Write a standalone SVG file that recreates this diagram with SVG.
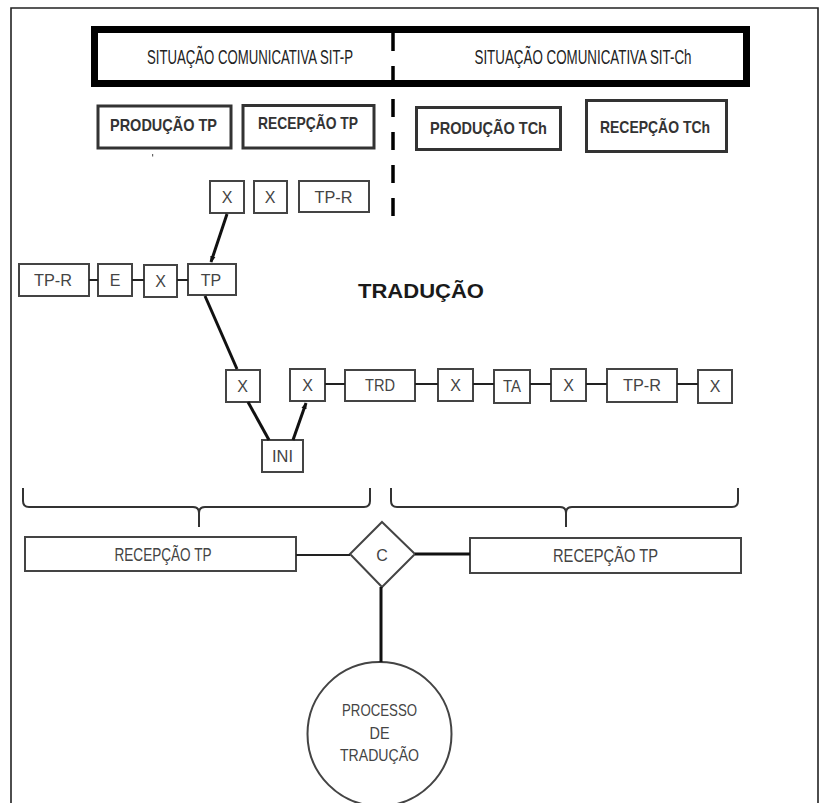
<svg xmlns="http://www.w3.org/2000/svg" width="819" height="803" viewBox="0 0 819 803">
<style>
.frame{fill:none;stroke:#222;stroke-width:1.6}
.hdr{fill:#fff;stroke:#000;stroke-width:7}
.big{fill:#fff;stroke:#333;stroke-width:3}
.sm{fill:#fff;stroke:#444;stroke-width:2}
.ln{fill:none;stroke:#111;stroke-width:3}
.thin{fill:none;stroke:#222;stroke-width:2}
.brace{fill:none;stroke:#333;stroke-width:2}
text{font-family:"Liberation Sans",Arial,sans-serif;dominant-baseline:central;text-anchor:middle}
.th{font-size:20px;fill:#222}
.tb{font-size:17px;font-weight:bold;fill:#333}
.ts{font-size:16px;fill:#444}
.tm{font-size:18px;fill:#444}
.tc{font-size:17px;fill:#444}
.title{font-size:21px;font-weight:bold;fill:#1a1a1a}
</style>
<defs>
<marker id="tip" viewBox="0 0 10 10" refX="9" refY="5" markerWidth="2.2" markerHeight="2.2" orient="auto" markerUnits="strokeWidth">
<path d="M0,1 L10,5 L0,9 z" fill="#111"/>
</marker>
</defs>
<rect x="0" y="0" width="819" height="803" fill="#fff"/>
<path class="frame" d="M11,803 V8 H818 V803"/>

<g id="header">
<rect class="hdr" x="94.5" y="29.5" width="652" height="54"/>
<text class="th" x="250" y="57" textLength="206" lengthAdjust="spacingAndGlyphs">SITUAÇÃO COMUNICATIVA SIT-P</text>
<text class="th" x="583" y="57" textLength="217" lengthAdjust="spacingAndGlyphs">SITUAÇÃO COMUNICATIVA SIT-Ch</text>
</g>
<g id="divider">
<line x1="393" y1="33" x2="393" y2="218" stroke="#000" stroke-width="3.5" stroke-dasharray="18 15"/>
</g>

<g id="producao-tp">
<rect class="big" x="98" y="106" width="133" height="42"/>
<text class="tb" x="163.5" y="125" textLength="107" lengthAdjust="spacingAndGlyphs">PRODUÇÃO TP</text>
</g>
<g id="recepcao-tp">
<rect class="big" x="243" y="105.5" width="131" height="42.5"/>
<text class="tb" x="308" y="123" textLength="100" lengthAdjust="spacingAndGlyphs">RECEPÇÃO TP</text>
</g>
<g id="producao-tch">
<rect class="big" x="416.5" y="107.5" width="144" height="42"/>
<text class="tb" x="488.5" y="128" textLength="117" lengthAdjust="spacingAndGlyphs">PRODUÇÃO TCh</text>
</g>
<g id="recepcao-tch">
<rect class="big" x="586.5" y="100.5" width="140" height="51"/>
<text class="tb" x="655" y="127" textLength="110" lengthAdjust="spacingAndGlyphs">RECEPÇÃO TCh</text>
</g>
<rect x="152" y="154" width="1.2" height="2.5" fill="#666"/>

<g id="x-top1"><rect class="sm" x="210" y="181" width="34" height="32"/><text class="ts" x="227" y="197">X</text></g>
<g id="x-top2"><rect class="sm" x="254" y="181" width="33" height="32"/><text class="ts" x="270" y="197">X</text></g>
<g id="tpr-top"><rect class="sm" x="299" y="181" width="70" height="31"/><text class="ts" x="333.5" y="197" textLength="38" lengthAdjust="spacingAndGlyphs">TP-R</text></g>

<g id="tpr-left"><rect class="sm" x="19" y="264" width="70" height="32"/><text class="ts" x="53" y="280" textLength="38" lengthAdjust="spacingAndGlyphs">TP-R</text></g>
<g id="e"><rect class="sm" x="98" y="264" width="34" height="32"/><text class="ts" x="115" y="280">E</text></g>
<g id="x-left"><rect class="sm" x="144" y="265" width="33" height="32"/><text class="ts" x="160.5" y="281">X</text></g>
<g id="tp"><rect class="sm" x="188" y="264" width="48" height="31"/><text class="ts" x="211" y="280">TP</text></g>

<text class="title" x="421" y="290" textLength="126" lengthAdjust="spacingAndGlyphs">TRADUÇÃO</text>

<g id="x-a"><rect class="sm" x="226" y="370" width="34" height="32"/><text class="ts" x="242.5" y="386">X</text></g>
<g id="x-b"><rect class="sm" x="290" y="369" width="35" height="32"/><text class="ts" x="307.5" y="385">X</text></g>
<g id="trd"><rect class="sm" x="345" y="370" width="70" height="31"/><text class="ts" x="380" y="385.5" textLength="30" lengthAdjust="spacingAndGlyphs">TRD</text></g>
<g id="x-c"><rect class="sm" x="438" y="369" width="35" height="32"/><text class="ts" x="455.5" y="385">X</text></g>
<g id="ta"><rect class="sm" x="494" y="370" width="36" height="33"/><text class="ts" x="512" y="386" textLength="18" lengthAdjust="spacingAndGlyphs">TA</text></g>
<g id="x-d"><rect class="sm" x="551" y="369" width="35" height="32"/><text class="ts" x="568.5" y="385">X</text></g>
<g id="tpr-right"><rect class="sm" x="607" y="369" width="70" height="33"/><text class="ts" x="642" y="385" textLength="38" lengthAdjust="spacingAndGlyphs">TP-R</text></g>
<g id="x-e"><rect class="sm" x="698" y="370" width="34" height="33"/><text class="ts" x="715" y="386">X</text></g>

<g id="ini"><rect class="sm" x="262" y="440" width="41" height="32"/><text class="ts" x="282.5" y="456.5" textLength="21" lengthAdjust="spacingAndGlyphs">INI</text></g>

<g id="braces">
<path class="brace" d="M23,488 V501 Q23,507 29,507 H193 Q199,507 199,513 V527 M199,513 Q199,507 205,507 H364 Q370,507 370,501 V488"/>
<path class="brace" d="M391,488 V501 Q391,507 397,507 H560 Q566,507 566,513 V527 M566,513 Q566,507 572,507 H732 Q738,507 738,501 V488"/>
</g>

<g id="recepcao-left"><rect class="sm" x="25" y="537" width="271" height="34"/><text class="tm" x="163" y="555" textLength="97" lengthAdjust="spacingAndGlyphs">RECEPÇÃO TP</text></g>
<g id="recepcao-right"><rect class="sm" x="470" y="538" width="271" height="35"/><text class="tm" x="605.5" y="556" textLength="105" lengthAdjust="spacingAndGlyphs">RECEPÇÃO TP</text></g>

<g id="c">
<path class="sm" d="M382,522 L415,554 L382,587 L350,554 Z"/>
<text class="ts" x="382" y="555">C</text>
</g>

<g id="processo">
<circle class="sm" cx="379.5" cy="734" r="72" stroke-width="1.8"/>
<text class="tc" x="379.5" y="710" textLength="75" lengthAdjust="spacingAndGlyphs">PROCESSO</text>
<text class="tc" x="379.5" y="733" textLength="20" lengthAdjust="spacingAndGlyphs">DE</text>
<text class="tc" x="379.5" y="755" textLength="79" lengthAdjust="spacingAndGlyphs">TRADUÇÃO</text>
</g>

<g id="connectors">
<line class="ln" x1="227" y1="214" x2="211" y2="262" marker-end="url(#tip)"/>
<line class="ln" x1="205" y1="296" x2="237" y2="369"/>
<line class="ln" x1="248" y1="402" x2="269" y2="440"/>
<line class="ln" x1="293" y1="440" x2="306" y2="403" marker-end="url(#tip)"/>
<line class="thin" x1="89" y1="280" x2="98" y2="280"/>
<line class="thin" x1="132" y1="280" x2="144" y2="280"/>
<line class="thin" x1="177" y1="280" x2="188" y2="280"/>
<line class="thin" x1="325" y1="384" x2="345" y2="384"/>
<line class="thin" x1="415" y1="384" x2="438" y2="384"/>
<line class="thin" x1="473" y1="384" x2="494" y2="384"/>
<line class="thin" x1="530" y1="384" x2="551" y2="384"/>
<line class="thin" x1="586" y1="384" x2="607" y2="384"/>
<line class="thin" x1="677" y1="384" x2="698" y2="384"/>
<line class="thin" x1="296" y1="555" x2="350" y2="555"/>
<line class="ln" x1="415" y1="554" x2="470" y2="554"/>
<line class="ln" x1="381" y1="587" x2="381" y2="662"/>
</g>
</svg>
